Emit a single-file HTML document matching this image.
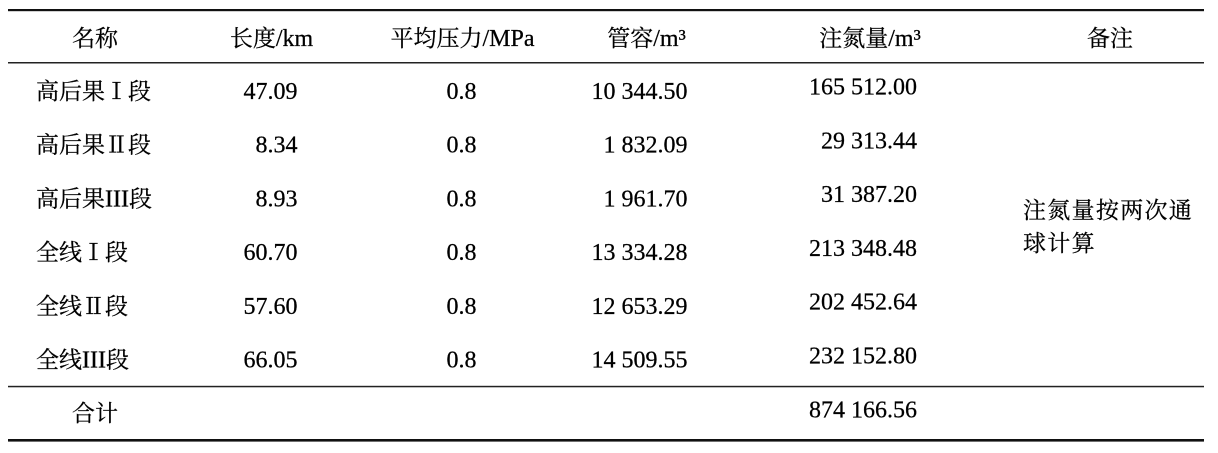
<!DOCTYPE html>
<html>
<head>
<meta charset="utf-8">
<style>
  html, body { margin: 0; padding: 0; background: #fff; }
  body { width: 1218px; height: 453px; overflow: hidden; }
  svg { display: block; }
  text { font-family: "Liberation Serif", "Noto Serif CJK SC", serif; font-size: 23px; fill: #000; stroke: #000; stroke-width: 0.25; }
  .n { font-size: 24px; }
  .l { font-size: 24px; }
</style>
</head>
<body>
<svg width="1218" height="453" viewBox="0 0 1218 453" xmlns="http://www.w3.org/2000/svg">
  <!-- rules -->
  <rect x="8" y="9" width="1196" height="2.2" fill="#111"/>
  <rect x="8" y="62" width="1196" height="1.5" fill="#222"/>
  <rect x="8" y="385.8" width="1196" height="1.5" fill="#222"/>
  <rect x="8" y="439" width="1196" height="2.6" fill="#111"/>

  <!-- header -->
  <text x="95" y="46" text-anchor="middle">名称</text>
  <text x="271.5" y="46" text-anchor="middle">长度<tspan class="l">/km</tspan></text>
  <text x="462.5" y="46" text-anchor="middle">平均压力<tspan class="l">/MPa</tspan></text>
  <text x="646.5" y="46" text-anchor="middle">管容<tspan class="l">/m³</tspan></text>
  <text x="870" y="46" text-anchor="middle">注氮量<tspan class="l">/m³</tspan></text>
  <text x="1110" y="46" text-anchor="middle">备注</text>

  <!-- names -->
  <text x="36" y="99">高后果Ⅰ段</text>
  <text x="36" y="152.7">高后果Ⅱ段</text>
  <text x="36" y="206.4">高后果<tspan class="l">III</tspan>段</text>
  <text x="36" y="260.1">全线Ⅰ段</text>
  <text x="36" y="313.8">全线Ⅱ段</text>
  <text x="36" y="367.5">全线<tspan class="l">III</tspan>段</text>
  <text x="95" y="421" text-anchor="middle">合计</text>

  <!-- length -->
  <text class="n" x="297.5" y="99" text-anchor="end">47.09</text>
  <text class="n" x="297.5" y="152.7" text-anchor="end">8.34</text>
  <text class="n" x="297.5" y="206.4" text-anchor="end">8.93</text>
  <text class="n" x="297.5" y="260.1" text-anchor="end">60.70</text>
  <text class="n" x="297.5" y="313.8" text-anchor="end">57.60</text>
  <text class="n" x="297.5" y="367.5" text-anchor="end">66.05</text>

  <!-- pressure -->
  <text class="n" x="461.5" y="99" text-anchor="middle">0.8</text>
  <text class="n" x="461.5" y="152.7" text-anchor="middle">0.8</text>
  <text class="n" x="461.5" y="206.4" text-anchor="middle">0.8</text>
  <text class="n" x="461.5" y="260.1" text-anchor="middle">0.8</text>
  <text class="n" x="461.5" y="313.8" text-anchor="middle">0.8</text>
  <text class="n" x="461.5" y="367.5" text-anchor="middle">0.8</text>

  <!-- pipe volume -->
  <text class="n" x="687.5" y="99" text-anchor="end">10 344.50</text>
  <text class="n" x="687.5" y="152.7" text-anchor="end">1 832.09</text>
  <text class="n" x="687.5" y="206.4" text-anchor="end">1 961.70</text>
  <text class="n" x="687.5" y="260.1" text-anchor="end">13 334.28</text>
  <text class="n" x="687.5" y="313.8" text-anchor="end">12 653.29</text>
  <text class="n" x="687.5" y="367.5" text-anchor="end">14 509.55</text>

  <!-- nitrogen -->
  <text class="n" x="917" y="94.5" text-anchor="end">165 512.00</text>
  <text class="n" x="917" y="148.25" text-anchor="end">29 313.44</text>
  <text class="n" x="917" y="202" text-anchor="end">31 387.20</text>
  <text class="n" x="917" y="255.75" text-anchor="end">213 348.48</text>
  <text class="n" x="917" y="309.5" text-anchor="end">202 452.64</text>
  <text class="n" x="917" y="363.25" text-anchor="end">232 152.80</text>
  <text class="n" x="917" y="417.3" text-anchor="end">874 166.56</text>

  <!-- remark -->
  <text x="1023" y="218" letter-spacing="1.3">注氮量按两次通</text>
  <text x="1023" y="251" letter-spacing="1.3">球计算</text>
</svg>
</body>
</html>
